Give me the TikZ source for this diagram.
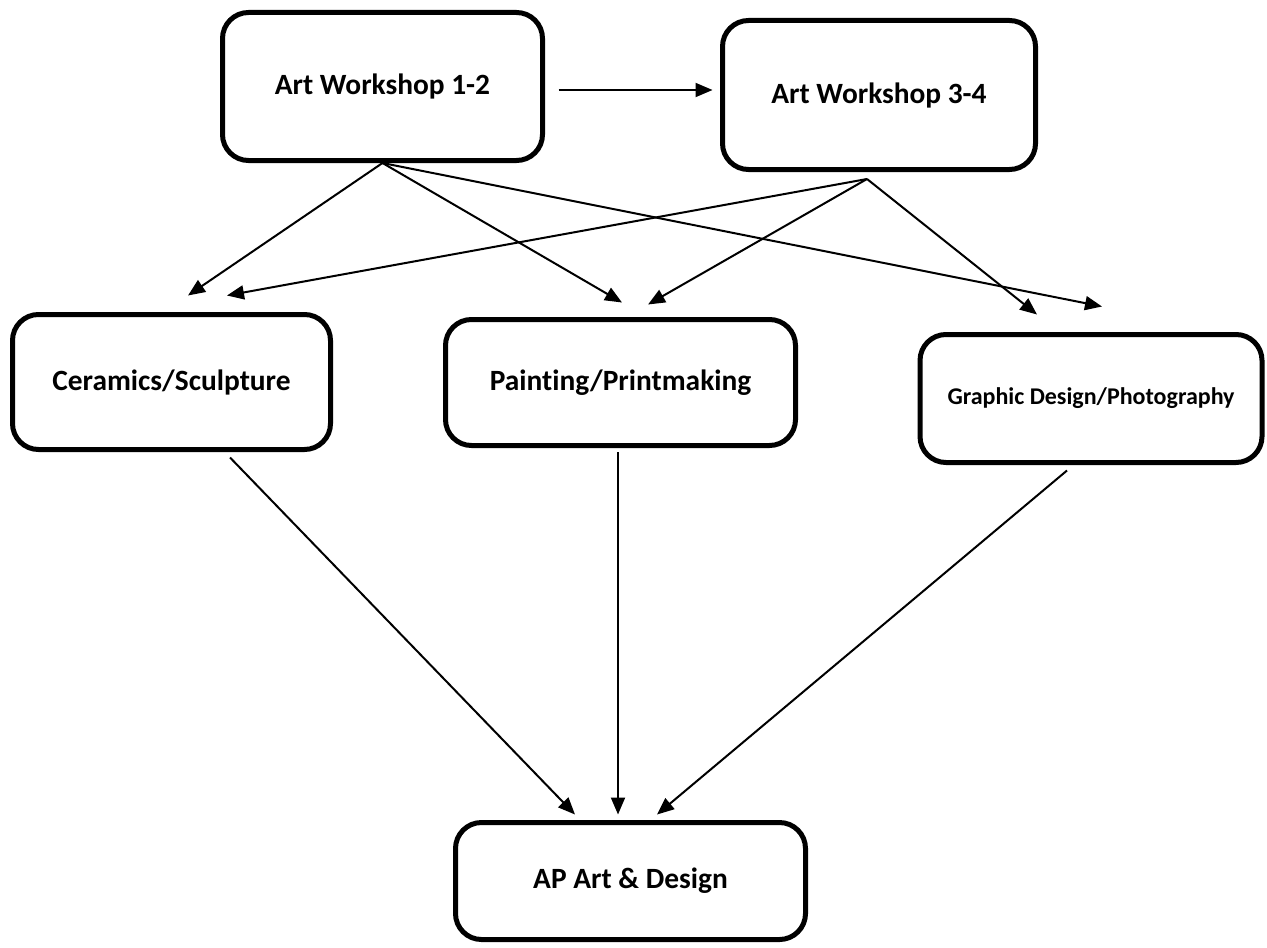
\documentclass[tikz,border=0pt]{standalone}
\usepackage{fontspec}
\setmainfont{Carlito}[Ligatures=NoCommon]
\usetikzlibrary{arrows.meta,positioning}

\begin{document}
\begin{tikzpicture}[x=0.5pt,y=-0.5pt,
    course/.style={draw,line width=2.5pt,rounded corners=13pt,align=center,
                   font={\fontsize{14.7}{17}\selectfont\bfseries}},
    smallcourse/.style={course,font={\fontsize{12}{14}\selectfont\bfseries}},
    link/.style={line width=1pt,-{Triangle[length=8.5pt,width=7pt]}}]
\useasboundingbox (0,0) rectangle (1267,947);

\node [course,minimum width=160pt,minimum height=74pt]        (ws12) at ( 382.5, 86.5) {Art Workshop 1-2};
\node [course,minimum width=156.5pt,minimum height=74.5pt]    (ws34) at ( 879  , 95  ) {Art Workshop 3-4};
\node [course,minimum width=159pt,minimum height=67.5pt]      (cer)  at ( 171.5,382  ) {Ceramics/Sculpture};
\node [course,minimum width=175pt,minimum height=63pt]        (pnt)  at ( 620.5,382.5) {Painting/Printmaking};
\node [smallcourse,minimum width=171pt,minimum height=64pt]   (gph)  at (1091  ,398.5) {Graphic Design/Photography};
\node [course,minimum width=175pt,minimum height=58.5pt]      (ap)   at ( 630.5,881  ) {AP Art \& Design};

\draw[link] ([xshift=6.75pt,yshift=-1.75pt]ws12.east) -- ([xshift=-3.75pt,yshift=2.5pt]ws34.west);

\draw[link] (ws12.south) -- ([xshift=8.25pt,yshift=8.25pt]cer.north);
\draw[link] (ws12.south) -- ([xshift=.75pt,yshift=7.25pt]pnt.north);
\draw[link] (ws12.south) -- ([xshift=5.5pt,yshift=12.75pt]gph.north);

\draw[link] ([xshift=-6pt,yshift=-3.5pt]ws34.south) -- ([xshift=27.75pt,yshift=8.25pt]cer.north);
\draw[link] ([xshift=-6pt,yshift=-3.5pt]ws34.south) -- ([xshift=13.75pt,yshift=6.25pt]pnt.north);
\draw[link] ([xshift=-6pt,yshift=-3.5pt]ws34.south) -- ([xshift=-27pt,yshift=8.75pt]gph.north);

\draw[link] ([xshift=29.25pt,yshift=-2.75pt]cer.south) -- ([xshift=-27.75pt,yshift=2.75pt]ap.north);
\draw[link] ([xshift=-1.25pt,yshift=-2pt]pnt.south)    -- ([xshift=-6.25pt,yshift=2.75pt]ap.north);
\draw[link] ([xshift=-12pt,yshift=-2.75pt]gph.south)   -- ([xshift=13.25pt,yshift=2.75pt]ap.north);
\end{tikzpicture}
\end{document}
